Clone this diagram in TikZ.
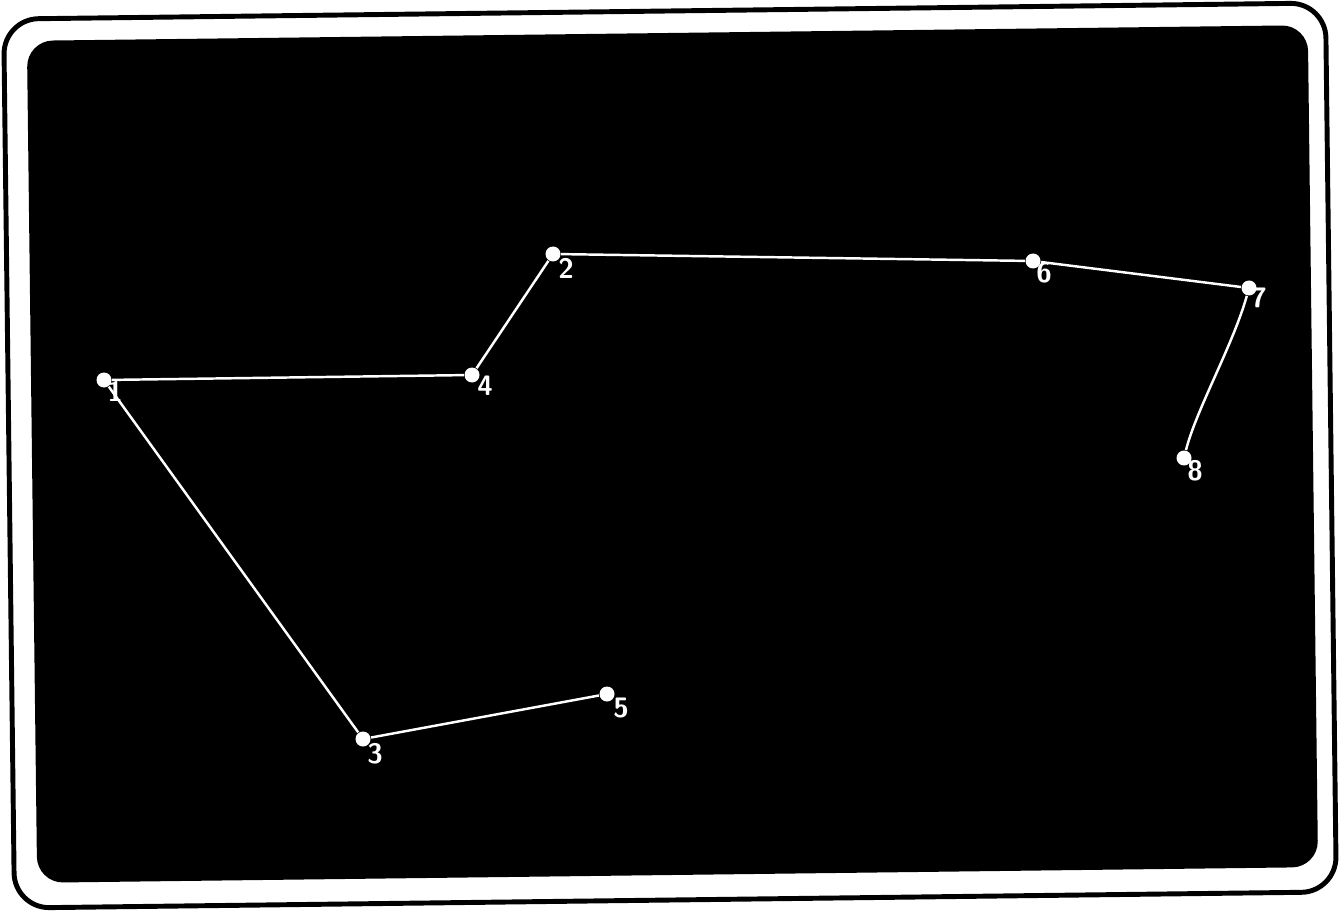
\documentclass[tikz,border=0pt]{standalone}
\colorlet{scrBack} {black}
\colorlet{scrFrame}{black}
\colorlet{scrTrace}{white}

\begin{document}
\begin{tikzpicture}[x=0.1mm, y=-0.1mm,
    dot/.style={circle, fill=scrTrace, inner sep=0pt, minimum size=1.5mm},
    num/.style={text=scrTrace, inner sep=0pt,
                font=\sffamily\bfseries\fontsize{8}{8}\selectfont},
    trace/.style={scrTrace, line width=0.7pt}]
        \useasboundingbox (0,0) rectangle (1339,912);
        \fill[white] (0,0) rectangle (1339,912);
        % screen frame, slightly tilted
        \begin{scope}[rotate around={0.7:(670,456)}]
          \draw[scrFrame, line width=1.4pt, rounded corners=3.5mm]
                (9,11) rectangle (1331,900);
          \fill[scrBack, rounded corners=2.6mm]
                (32,33) rectangle (1313,875);
        \end{scope}
        % points
        \node[dot] (p1) at (104,380){};
        \node[dot] (p2) at (553,254){};
        \node[dot] (p3) at (363,739){};
        \node[dot] (p4) at (472,375){};
        \node[dot] (p5) at (607,694){};
        \node[dot] (p6) at (1033,261){};
        \node[dot] (p7) at (1249,288){};
        \node[dot] (p8) at (1184,458){};
        \node[num] (l1) at (115,391){1};
        \node[num] (l2) at (566,268){2};
        \node[num] (l3) at (375,754){3};
        \node[num] (l4) at (485,386){4};
        \node[num] (l5) at (621,708){5};
        \node[num] (l6) at (1044,273){6};
        \node[num] (l7) at (1259,298){7};
        \node[num] (l8) at (1195,471){8};
        % path
        \draw[trace] (p1)--(p4);
        \draw[trace] (p4)--(p2);
        \draw[trace] (p2)--(p6);
        \draw[trace] (p6)--(p7);
        \draw[trace] (p7) .. controls (1233,345) and (1196,410) .. (p8);
        \draw[trace] (p1)--(p3);
        \draw[trace] (p3)--(p5);
      \end{tikzpicture}
\end{document}
